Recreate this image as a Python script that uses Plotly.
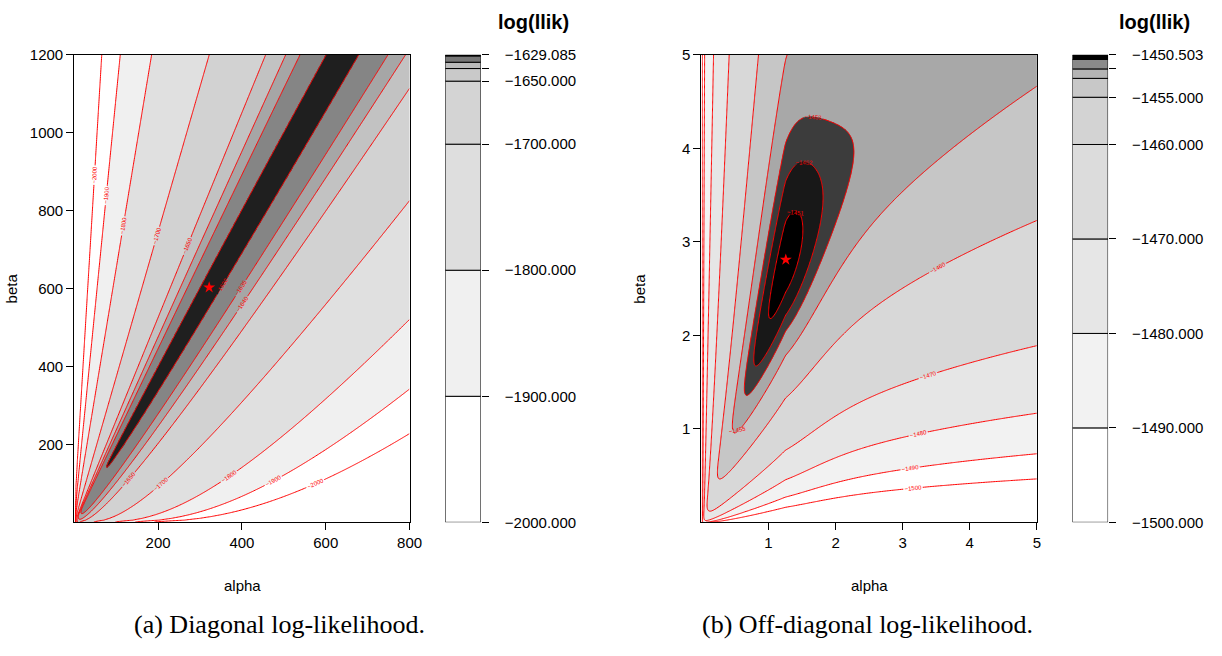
import numpy as np
import plotly.graph_objects as go

# ---- surface description ----------------------------------------------------
# Each log-likelihood surface is described by its peak (alpha0, beta0, value)
# and by how fast it falls away along and across the ridge beta/alpha = const.
diag_peak = dict(alpha=320.0, beta=600.0, value=-1629.085)
offdiag_peak = dict(alpha=1.25, beta=2.8, value=-1450.503)

# across-ridge fall-off: far slope, saturation constant, width at the peak,
# growth of the width beyond the peak (upper side / lower side of the ridge)
diag_across_upper = [206.0, 1.0, 0.51, 0.0]
diag_across_lower = [1863.0, 5000.0, 0.51, 0.0]
offdiag_across_upper = [11.7, 0.1, 0.18, 0.47]
offdiag_across_lower = [24.0, 0.3, 0.323, 0.47]
# along-ridge fall-off: inner scale, inner power, outer plateau, outer rate,
# inner reciprocal term (steep rise towards alpha = 0)
diag_along = [0.4, 2.0, 30.0, 0.01, 500.0]
offdiag_along = [4.49, 1.47, 3.0, 5.0, 0.0]
# bend of the ridge beyond the peak (log-ratio per log-alpha)
diag_bend = 0.0
offdiag_bend = 0.42

# parameter grids
diag_alpha = np.linspace(1, 800, 240)
diag_beta = np.linspace(1, 1200, 260)
offdiag_alpha = np.concatenate([np.geomspace(0.002, 0.09, 30), np.linspace(0.1, 5, 200)])
offdiag_beta = np.concatenate([np.geomspace(0.002, 0.09, 30), np.linspace(0.1, 5, 200)])

# filled levels (the peak value closes the top band)
diag_levels = [-2000, -1900, -1800, -1700, -1650, -1640, -1635, -1630]
offdiag_levels = [-1500, -1490, -1480, -1470, -1460, -1455, -1453, -1452, -1451]

# plot band colours: "below lowest level" first, then each band upwards
diag_fill = ["#ffffff", "#ffffff", "#f0f0f0", "#e0e0e0", "#d2d2d2",
             "#c2c2c2", "#a6a6a6", "#858585", "#1f1f1f"]
offdiag_fill = ["#ffffff", "#ffffff", "#f2f2f2", "#e6e6e6", "#d8d8d8",
                "#c6c6c6", "#a8a8a8", "#3c3c3c", "#181818", "#000000"]
# colour key band colours, from the lowest band upwards
diag_key_fill = ["#ffffff", "#f0f0f0", "#dedede", "#d4d4d4", "#c9c9c9",
                 "#bbbbbb", "#777777", "#000000"]
offdiag_key_fill = ["#ffffff", "#f2f2f2", "#e6e6e6", "#dcdcdc", "#d3d3d3",
                    "#c8c8c8", "#b4b4b4", "#8a8a8a", "#000000"]

# red contour lines
diag_lines = [-2000, -1900, -1800, -1700, -1650, -1640, -1635, -1630]
offdiag_lines = [-1500, -1490, -1480, -1470, -1460, -1455, -1453, -1452, -1451]

# key axis ticks (labelled ones and unlabelled ones)
diag_key_ticks = [-2000, -1900, -1800, -1700, -1650, -1640]
offdiag_key_ticks = [-1500, -1490, -1480, -1470, -1460, -1455, -1452]
diag_key_unlabelled = [-1640]
offdiag_key_unlabelled = [-1452]


# ---- surface ---------------------------------------------------------------
def steepness(A, prm, a0):
    slope = prm[0] * A / (A + prm[1])
    width = prm[2] * np.maximum(1.0, A / a0) ** prm[3]
    return slope * width, width


def surface(alpha, beta, peak, up, lo, along, bend):
    A, B = np.meshgrid(alpha, beta)
    a0 = peak["alpha"]
    u = np.log(A / a0)
    x = np.log(B / A) - np.log(peak["beta"] / a0)
    x = x + bend * np.clip(u, 0, None)
    w_up, d_up = steepness(A, up, a0)
    w_lo, d_lo = steepness(A, lo, a0)
    w = np.where(x >= 0, w_up, w_lo)
    width = np.where(x >= 0, d_up, d_lo)
    across = w * (np.sqrt(1.0 + (x / width) ** 2) - 1.0)
    inner = along[0] * np.clip(-u, 0, None) ** along[1]
    inner = inner + along[4] * np.clip(1.0 / A ** 2 - 1.0 / a0 ** 2, 0, None)
    outer = along[2] * (1.0 - np.exp(-along[3] * np.clip(u, 0, None) ** 2))
    return peak["value"] - inner - outer - across


z_diag = surface(diag_alpha, diag_beta, diag_peak, diag_across_upper,
                 diag_across_lower, diag_along, diag_bend)
z_off = surface(offdiag_alpha, offdiag_beta, offdiag_peak, offdiag_across_upper,
                offdiag_across_lower, offdiag_along, offdiag_bend)

W, H = 1222, 656


def px_x(p):
    return p / W


def px_y(p):
    return 1 - p / H


PLOT_TOP, PLOT_BOT = 47, 527
panels = [
    dict(alpha=diag_alpha, beta=diag_beta, z=z_diag, top=diag_peak["value"],
         levels=diag_levels, fill=diag_fill, key_fill=diag_key_fill,
         lines=diag_lines, ticks=diag_key_ticks, unl=diag_key_unlabelled,
         xr=[0, 800], yr=[0, 1200],
         xt=[200, 400, 600, 800], yt=[200, 400, 600, 800, 1000, 1200],
         plot=(75, 414), key=(450, 486), title_x=539, xlab_x=245,
         ylab_x=12, caption="(a) Diagonal log-likelihood.", cap_x=282),
    dict(alpha=offdiag_alpha, beta=offdiag_beta, z=z_off,
         top=offdiag_peak["value"], levels=offdiag_levels, fill=offdiag_fill,
         key_fill=offdiag_key_fill, lines=offdiag_lines,
         ticks=offdiag_key_ticks, unl=offdiag_key_unlabelled,
         xr=[0, 5], yr=[0, 5], xt=[1, 2, 3, 4, 5], yt=[1, 2, 3, 4, 5],
         plot=(709, 1048), key=(1084, 1120), title_x=1167, xlab_x=879,
         ylab_x=646, caption="(b) Off-diagonal log-likelihood.", cap_x=877),
]

SANS = "Liberation Sans"
tick_font = dict(family=SANS, size=15, color="black")

fig = go.Figure()
layout = dict(width=W, height=H, margin=dict(l=0, r=0, t=0, b=0),
              paper_bgcolor="white", plot_bgcolor="white", showlegend=False,
              barmode="overlay", font=dict(family=SANS, size=13, color="black"))
annotations = []


def minus(s):
    return s.replace("-", "\u2212")


for i, p in enumerate(panels):
    xa = "x" if i == 0 else f"x{2 * i + 1}"
    ya = "y" if i == 0 else f"y{2 * i + 1}"
    xk = f"x{2 * i + 2}"
    yk = f"y{2 * i + 2}"
    xa_key = "xaxis" if i == 0 else f"xaxis{2 * i + 1}"
    ya_key = "yaxis" if i == 0 else f"yaxis{2 * i + 1}"

    levels = list(p["levels"]) + [p["top"]]
    K = len(levels)
    # uneven levels are mapped onto 0..K-1 so that they fill as even steps
    zt = np.interp(p["z"], levels, np.arange(K), left=-1.0)
    cols = p["fill"] + [p["fill"][-1]]
    scale = []
    for j, c in enumerate(cols):
        lo = max(0.0, (j - 0.5) / K)
        hi = 1.0 if j == len(cols) - 1 else min(1.0, (j + 0.5) / K)
        scale += [[lo, c], [hi, c]]

    fig.add_trace(go.Contour(
        x=p["alpha"], y=p["beta"], z=zt, xaxis=xa, yaxis=ya,
        autocontour=False,
        contours=dict(start=0, end=K - 1, size=1, coloring="fill"),
        colorscale=scale, showscale=False, line=dict(width=0),
        hoverinfo="skip"))

    for lv in p["lines"]:
        fig.add_trace(go.Contour(
            x=p["alpha"], y=p["beta"], z=p["z"], xaxis=xa, yaxis=ya,
            autocontour=False,
            contours=dict(start=lv, end=lv, size=1, coloring="lines",
                          showlabels=True,
                          labelfont=dict(size=6, color="red", family=SANS)),
            colorscale=[[0, "red"], [1, "red"]], showscale=False,
            line=dict(width=1, color="red", smoothing=0.8), hoverinfo="skip"))

    # location of the maximum
    r, c = np.unravel_index(np.argmax(p["z"]), p["z"].shape)
    fig.add_trace(go.Scatter(
        x=[p["alpha"][c]], y=[p["beta"][r]], mode="markers", xaxis=xa, yaxis=ya,
        marker=dict(symbol="star", size=9, color="red"), hoverinfo="skip"))

    x0, x1 = p["plot"]
    common = dict(showgrid=False, zeroline=False, showline=True, mirror=True,
                  linecolor="black", linewidth=1, ticks="outside", ticklen=7,
                  tickcolor="black", tickfont=tick_font)
    layout[xa_key] = dict(domain=[px_x(x0), px_x(x1)], range=p["xr"],
                          anchor=ya, tickvals=p["xt"], **common)
    layout[ya_key] = dict(domain=[px_y(PLOT_BOT), px_y(PLOT_TOP)],
                          range=p["yr"], anchor=xa, tickvals=p["yt"], **common)

    # colour key
    lows = levels[:-1]
    heights = [levels[j + 1] - levels[j] for j in range(K - 1)]
    fig.add_trace(go.Bar(
        x=[0.5] * (K - 1), y=heights, base=lows, width=1, xaxis=xk, yaxis=yk,
        marker=dict(color=p["key_fill"], line=dict(color="black", width=1)),
        hoverinfo="skip"))
    k0, k1 = p["key"]
    kt = list(p["ticks"]) + [p["top"]]
    layout[f"xaxis{2 * i + 2}"] = dict(
        domain=[px_x(k0), px_x(k1)], range=[0, 1], anchor=yk, visible=False,
        fixedrange=True)
    layout[f"yaxis{2 * i + 2}"] = dict(
        domain=[px_y(PLOT_BOT), px_y(PLOT_TOP)], range=[levels[0], levels[-1]],
        anchor=xk, side="right", showgrid=False, zeroline=False,
        showline=False, ticks="outside", ticklen=7, tickcolor="black",
        tickvals=kt,
        ticktext=["" if v in p["unl"] else minus(f"{v:.3f}") for v in kt],
        tickfont=tick_font, ticklabelstandoff=13)

    annotations += [
        dict(text="<b>log(llik)</b>", x=px_x(p["title_x"]), y=px_y(13)),
        dict(text="alpha", x=px_x(p["xlab_x"]), y=px_y(592)),
        dict(text="beta", x=px_x(p["ylab_x"]), y=px_y(287), textangle=-90),
        dict(text=p["caption"], x=px_x(p["cap_x"]), y=px_y(632)),
    ]

fonts = [dict(family=SANS, size=20), dict(family=SANS, size=15),
         dict(family=SANS, size=15), dict(family="Liberation Serif", size=26)]
for j, a in enumerate(annotations):
    a.update(xref="paper", yref="paper", showarrow=False, xanchor="center",
             yanchor="middle", font=dict(color="black", **fonts[j % 4]))

layout["annotations"] = annotations
fig.update_layout(**layout)
fig.write_html("out.html")
